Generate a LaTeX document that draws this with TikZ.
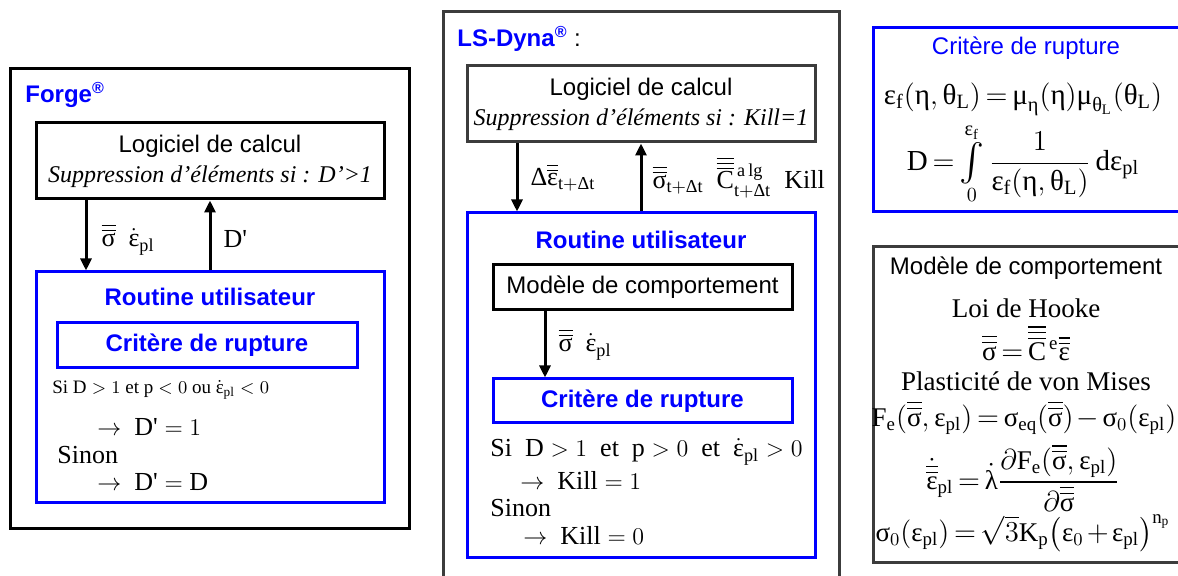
\documentclass[tikz,border=0pt]{standalone}
\usepackage{fontspec}
\usepackage{amsmath}
\setmainfont{Liberation Serif}
\setsansfont{Liberation Sans}
\usetikzlibrary{
  arrows.meta,
  positioning,
  calc
}
\definecolor{userblue}{HTML}{0000FF}
\definecolor{framegray}{HTML}{3C3C3C}

\newcommand\tx[1]{\text{#1}}
\newcommand\sig{\text{σ}}
\newcommand\eps{\text{ε}}
\newcommand\dbar[1]{\overline{\overline{#1}}}
\newcommand\tbar[1]{\overline{\overline{\overline{#1}}}}
\newcommand\epl{\eps_{\tx{pl}}}
\newcommand\Dp{D\textquotesingle}
\newcommand\tightmath{\thickmuskip=3mu plus 1mu\medmuskip=2mu plus 1mu}
\newcommand\midint{\mathop{\vcenter{\hbox{\scalebox{1.3}{$\int$}}}}}

\begin{document}
\begin{tikzpicture}[
    x=0.5pt, y=-0.5pt,
    every node/.style={inner sep=0pt},
    frame/.style={
      rectangle, draw=black, line width=1.5pt, inner sep=0pt
    },
    grayframe/.style={frame, draw=framegray},
    blueframe/.style={frame, draw=userblue},
    head/.style={
      font=\sffamily\bfseries\fontsize{12}{14}\selectfont, text=userblue
    },
    plain/.style={font=\sffamily\fontsize{12}{14}\selectfont},
    calcbox/.style={
      align=center, font=\fontsize{12}{15}\selectfont
    },
    body/.style={font=\rmfamily\fontsize{13}{15}\selectfont, anchor=west},
    eqn/.style={font=\rmfamily\fontsize{13.5}{16}\selectfont\tightmath},
    bigeqn/.style={font=\rmfamily\fontsize{14.5}{17}\selectfont\tightmath},
    flow/.style={-{Triangle[length=6pt,width=5.5pt]}, line width=1.5pt},
    flowlabel/.style={font=\rmfamily\fontsize{13}{15}\selectfont, anchor=west},
  ]

  \useasboundingbox (0,0) rectangle (1178,576);
  \clip (0,0) rectangle (1178,576);

  % --- Forge ---
  \node[frame, minimum width=199.5pt, minimum height=230pt]
    (forge) at (209.5,299) {};
  \node[head, anchor=west] (forgetitle) at (25,95)
    {Forge\textsuperscript{\textregistered}};

  \node[frame, calcbox, minimum width=174pt, minimum height=38pt]
    (calcL) at (210,161)
    {{\sffamily Logiciel de calcul}\\
     {\itshape Suppression d’éléments si : D’>1}};

  \node[blueframe, minimum width=174pt, minimum height=115.5pt]
    (userL) at (210,387.5) {};
  \node[head] (userLtitle) at (210,297) {Routine utilisateur};

  \node[blueframe, head, minimum width=150pt, minimum height=22.5pt]
    (critL) at (207,345.5) {Critère de rupture};

  \node[body, font=\rmfamily\fontsize{9.5}{11}\selectfont] (ifL) at (52,390)
    {Si $\tx{D}>1$ et $\tx{p}<0$ ou $\dot{\eps}_{\tx{pl}}<0$};
  \node[body] (killL) at (97,427) {$\to$ \ $\tx{\Dp}=1$};
  \node[body] (elseL) at (57,455) {Sinon};
  \node[body] (keepL) at (97,482) {$\to$ \ $\tx{\Dp}=\tx{D}$};

  \draw[flow] ([xshift=-62pt]calcL.south) -- ([xshift=-62pt]userL.north)
    node[flowlabel, midway, xshift=7pt, yshift=-2pt]
    {$\dbar{\sig}\ \ \dot{\eps}_{\tx{pl}}$};
  \draw[flow] (userL.north) -- (calcL.south)
    node[flowlabel, midway, xshift=6pt, yshift=-2pt] {\Dp};

  % --- LS-Dyna ---
  \node[grayframe, minimum width=198pt, minimum height=294pt]
    (dyna) at (641,306) {};
  \node[head, anchor=west] (dynatitle) at (457,39)
    {LS-Dyna\textsuperscript{\textregistered}\textcolor{black}{\mdseries\ :}};

  \node[grayframe, calcbox, minimum width=174pt, minimum height=38pt]
    (calcM) at (641,104)
    {{\sffamily Logiciel de calcul}\\
     {\itshape Suppression d’éléments si : Kill=1}};

  \node[blueframe, minimum width=174pt, minimum height=172.5pt]
    (userM) at (641,385.5) {};
  \node[head] (userMtitle) at (641,240) {Routine utilisateur};

  \node[frame, plain, minimum width=149.5pt, minimum height=22.5pt]
    (modelM) at (642.5,287.5) {Modèle de comportement};
  \node[blueframe, head, minimum width=149.5pt, minimum height=22pt]
    (critM) at (642.5,401) {Critère de rupture};

  \node[body] (ifM) at (490,452)
    {Si \ $\tx{D}>1$ \ et \ $\tx{p}>0$ \ et \ $\dot{\eps}_{\tx{pl}}>0$};
  \node[body] (killM) at (520,480) {$\to$ \ $\tx{Kill}=1$};
  \node[body] (elseM) at (490,508) {Sinon};
  \node[body] (keepM) at (523,535) {$\to$ \ $\tx{Kill}=0$};

  \draw[flow] ([xshift=-62pt]calcM.south) -- ([xshift=-62pt]userM.north)
    node[flowlabel, midway, xshift=6pt]
    {$\tx{Δ}\dbar{\eps}_{\tx{t}+\tx{Δt}}$};
  \draw[flow] (userM.north) -- (calcM.south)
    node[flowlabel, midway, xshift=5pt]
    {$\dbar{\sig}_{\tx{t}+\tx{Δt}}\ \ \tbar{\tx{C}}{}^{\,\tx{a\,lg}}_{\tx{t}+\tx{Δt}}\ \ \tx{Kill}$};
  \draw[flow] ([xshift=-48.75pt]modelM.south) -- ([xshift=-48.75pt]critM.north)
    node[flowlabel, midway, xshift=6pt]
    {$\dbar{\sig}\ \ \dot{\eps}_{\tx{pl}}$};

  % --- Critere de rupture (right) ---
  \node[blueframe, minimum width=163.5pt, minimum height=92pt]
    (critR) at (1036.5,120) {};
  \node[plain, text=userblue] (critRtitle) at (1026,48) {Critère de rupture};
  \node[bigeqn] (failstrain) at (1023,99)
    {$\eps_{\tx{f}}(\tx{η},\tx{θ}_{\tx{L}})=\tx{μ}_{\tx{η}}(\tx{η})\tx{μ}_{\tx{θ}_{\tx{L}}}(\tx{θ}_{\tx{L}})$};
  \node[bigeqn] (damage) at (1023,164)
    {$\tx{D}=\midint\limits_0^{\eps_{\tx{f}}}\dfrac{1}{\eps_{\tx{f}}(\tx{η},\tx{θ}_{\tx{L}})}\,\tx{d}\epl$};

  % --- Modele de comportement (right) ---
  \node[grayframe, minimum width=163.5pt, minimum height=158pt]
    (modelR) at (1036.5,405) {};
  \node[plain] (modelRtitle) at (1026,268) {Modèle de comportement};
  \node[eqn] (hooke) at (1026,308) {Loi de Hooke};
  \node[eqn] (hookelaw) at (1026,343)
    {$\dbar{\sig}=\tbar{\tx{C}}{}^{\,\tx{e}}\dbar{\eps}$};
  \node[eqn] (mises) at (1026,381) {Plasticité de von Mises};
  \node[eqn] (yield) at (1024,418)
    {$\tx{F}_{\tx{e}}(\dbar{\sig},\epl)=\sig_{\tx{eq}}(\dbar{\sig})-\sig_0(\epl)$};
  \node[eqn] (flowrule) at (1023,478)
    {$\dot{\dbar{\eps}}_{\tx{pl}}=\dot{\tx{λ}}\dfrac{\partial\tx{F}_{\tx{e}}(\dbar{\sig},\epl)}{\partial\dbar{\sig}}$};
  \node[eqn] (hardening) at (1023,533)
    {$\sig_0(\epl)=\sqrt{3}\tx{K}_{\tx{p}}\bigl(\eps_0+\epl\bigr)^{\tx{n}_{\tx{p}}}$};

\end{tikzpicture}
\end{document}
